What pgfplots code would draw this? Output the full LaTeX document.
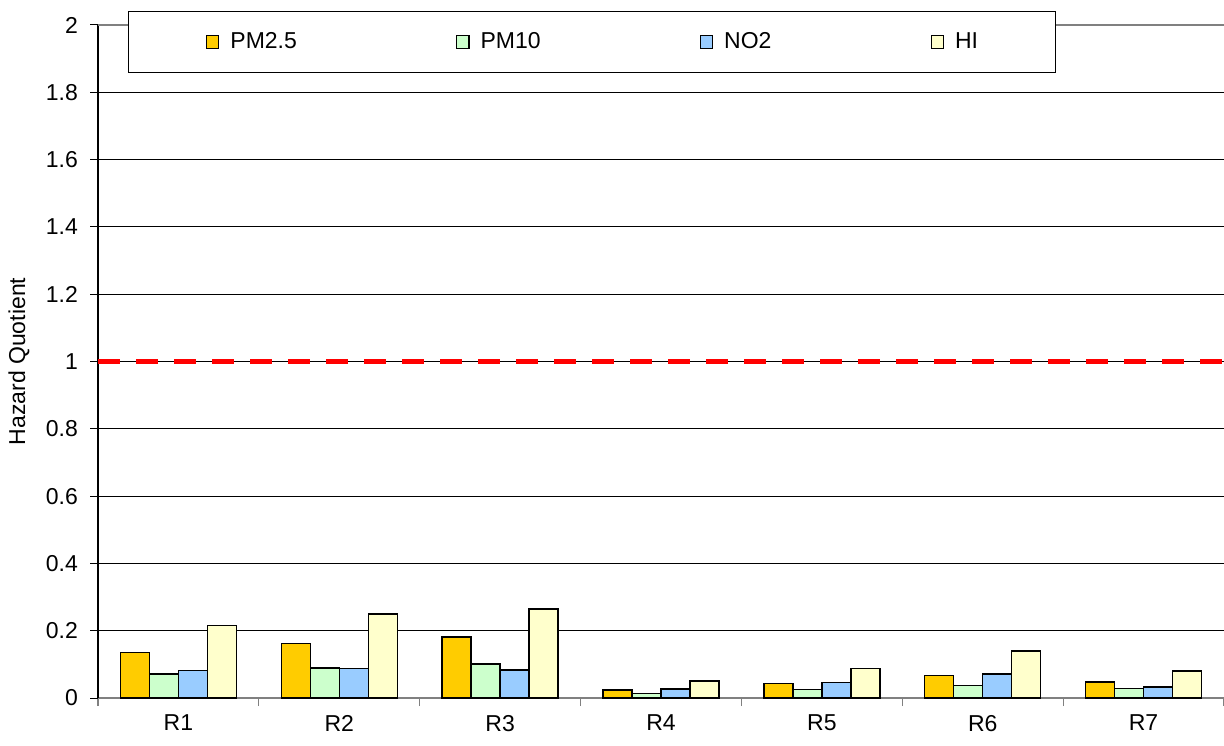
\documentclass[border=0pt]{standalone}
\usepackage{fontspec}
\setmainfont{Liberation Sans}
\usepackage{pgfplots}
\pgfplotsset{compat=1.18}
\usetikzlibrary{calc}

\definecolor{pmtwofive}{HTML}{FFCC00}
\definecolor{pmten}{HTML}{CCFFCC}
\definecolor{notwo}{HTML}{99CCFF}
\definecolor{hindex}{HTML}{FFFFCC}
\definecolor{axisgray}{HTML}{808080}

\newcommand{\chartfont}{\fontsize{11.5}{13}\selectfont}

\begin{document}
\begin{tikzpicture}
\begin{axis}[
  scale only axis,
  width=563pt, height=336.5pt,
  xmin=-0.5, xmax=6.5,
  ymin=0, ymax=2,
  ybar=0pt, bar width=14.5pt,
  axis x line*=bottom,
  axis y line*=left,
  x axis line style={axisgray, line width=0.6pt, -},
  y axis line style={black, line width=0.6pt, -},
  % category separators carry the tick marks, names sit in between
  xtick={-0.5,0.5,...,6.5},
  xticklabels={},
  xtick style={axisgray, line width=0.6pt},
  extra x ticks={0,1,2,3,4,5,6},
  extra x tick labels={R1,R2,R3,R4,R5,R6,R7},
  extra x tick style={major tick length=0pt, xticklabel style={yshift=-5pt}},
  ytick={0,0.2,...,1.8},
  extra y ticks={2},
  extra y tick labels={2},
  extra y tick style={grid style={axisgray, line width=0.6pt}},
  yticklabel style={/pgf/number format/fixed, /pgf/number format/precision=1},
  ymajorgrids,
  grid style={black, line width=0.5pt},
  major tick length=4pt,
  ytick style={black, line width=0.5pt},
  tick align=outside,
  /pgf/number format/assume math mode=true,
  tick label style={font=\chartfont},
  yticklabel style={xshift=-2.5pt},
  ylabel={Hazard Quotient},
  ylabel style={font=\chartfont, at={(rel axis cs:-0.0702,0.5)}, anchor=center, rotate=0},
  legend columns=4,
  legend image code/.code={\draw[#1, line width=0.6pt] (0pt,-3.2pt) rectangle (6.2pt,3.2pt);},
  legend style={
    at={(rel axis cs:0.4387,0.9747)}, anchor=center,
    draw=black, fill=white, line width=0.6pt,
    inner xsep=38.5pt, inner ysep=10.5pt,
    nodes={inner sep=0pt, font=\chartfont},
    /tikz/every odd column/.append style={column sep=5.5pt},
    /tikz/every even column/.append style={column sep=79.5pt},
  },
  every axis plot/.append style={draw=black, line width=0.75pt},
]
% Hazard quotients by receptor
\addplot[fill=pmtwofive] coordinates {(0,0.135) (1,0.162) (2,0.181) (3,0.024) (4,0.043) (5,0.067) (6,0.048)};
\addplot[fill=pmten]     coordinates {(0,0.072) (1,0.089) (2,0.101) (3,0.013) (4,0.026) (5,0.037) (6,0.028)};
\addplot[fill=notwo]     coordinates {(0,0.082) (1,0.087) (2,0.083) (3,0.027) (4,0.046) (5,0.071) (6,0.032)};
\addplot[fill=hindex]    coordinates {(0,0.216) (1,0.249) (2,0.265) (3,0.051) (4,0.088) (5,0.139) (6,0.080)};
\legend{PM2.5,PM10,NO2,HI}
% threshold HQ = 1
\addplot[sharp plot, forget plot, draw=red, line width=2.5pt, dash pattern=on 11pt off 8pt]
  coordinates {(-0.5,1) (6.5,1)};
\end{axis}
\pgfresetboundingbox
\path[use as bounding box] ($(current axis.south west)+(-49pt,-23.5pt)$) rectangle ($(current axis.north east)+(0pt,12.5pt)$);
\end{tikzpicture}
\end{document}
